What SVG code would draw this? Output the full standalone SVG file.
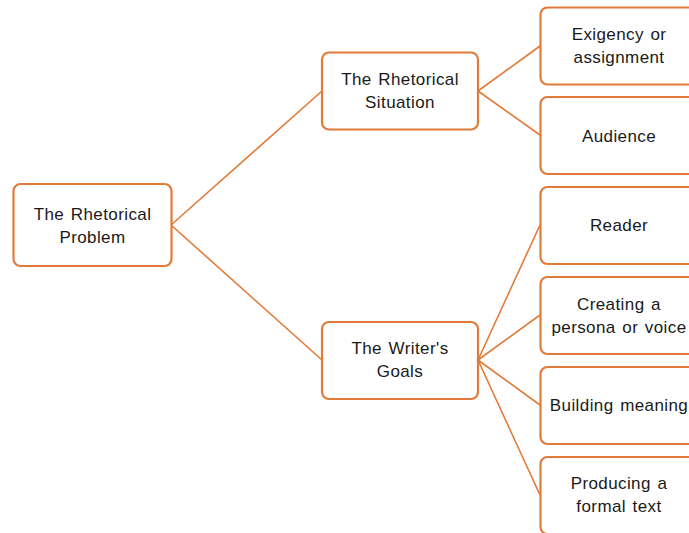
<svg xmlns="http://www.w3.org/2000/svg" width="689" height="533" viewBox="0 0 689 533">
<style>
.box{fill:#ffffff;stroke:#E07B39;stroke-width:2.2}
.lbl{font-family:"Liberation Sans",Arial,sans-serif;font-size:17px;letter-spacing:0.4px;word-spacing:1.5px;fill:#1a1a1a;text-anchor:middle}
.conn{stroke:#E07B39;stroke-width:1.6;fill:none}
</style>
<rect width="689" height="533" fill="#ffffff"/>
<g id="connectors">
<line class="conn" x1="171" y1="225" x2="322" y2="91"/>
<line class="conn" x1="171" y1="225" x2="322" y2="360"/>
<line class="conn" x1="478" y1="91" x2="540" y2="46"/>
<line class="conn" x1="478" y1="91" x2="540" y2="135"/>
<line class="conn" x1="478" y1="360" x2="540" y2="225"/>
<line class="conn" x1="478" y1="360" x2="540" y2="315"/>
<line class="conn" x1="478" y1="360" x2="540" y2="405"/>
<line class="conn" x1="478" y1="360" x2="540" y2="495"/>
</g>
<g id="root">
<rect class="box" x="13.5" y="184" width="158" height="82" rx="7"/>
<text class="lbl" x="92.5" y="220">The Rhetorical</text>
<text class="lbl" x="92.5" y="243">Problem</text>
</g>
<g id="situation">
<rect class="box" x="322" y="52.5" width="156" height="77" rx="7"/>
<text class="lbl" x="400" y="85">The Rhetorical</text>
<text class="lbl" x="400" y="108">Situation</text>
</g>
<g id="goals">
<rect class="box" x="322" y="322" width="156" height="77" rx="7"/>
<text class="lbl" x="400" y="354">The Writer's</text>
<text class="lbl" x="400" y="377">Goals</text>
</g>
<g id="exigency">
<rect class="box" x="540.5" y="7.5" width="156" height="77" rx="7"/>
<text class="lbl" x="619" y="40">Exigency or</text>
<text class="lbl" x="619" y="63">assignment</text>
</g>
<g id="audience">
<rect class="box" x="540.5" y="97" width="156" height="77" rx="7"/>
<text class="lbl" x="619" y="142">Audience</text>
</g>
<g id="reader">
<rect class="box" x="540.5" y="187" width="156" height="77" rx="7"/>
<text class="lbl" x="619" y="231">Reader</text>
</g>
<g id="persona">
<rect class="box" x="540.5" y="277" width="156" height="77" rx="7"/>
<text class="lbl" x="619" y="310">Creating a</text>
<text class="lbl" x="619" y="333">persona or voice</text>
</g>
<g id="meaning">
<rect class="box" x="540.5" y="367" width="156" height="77" rx="7"/>
<text class="lbl" x="619" y="411">Building meaning</text>
</g>
<g id="formal">
<rect class="box" x="540.5" y="457" width="156" height="77" rx="7"/>
<text class="lbl" x="619" y="489">Producing a</text>
<text class="lbl" x="619" y="512">formal text</text>
</g>
</svg>
